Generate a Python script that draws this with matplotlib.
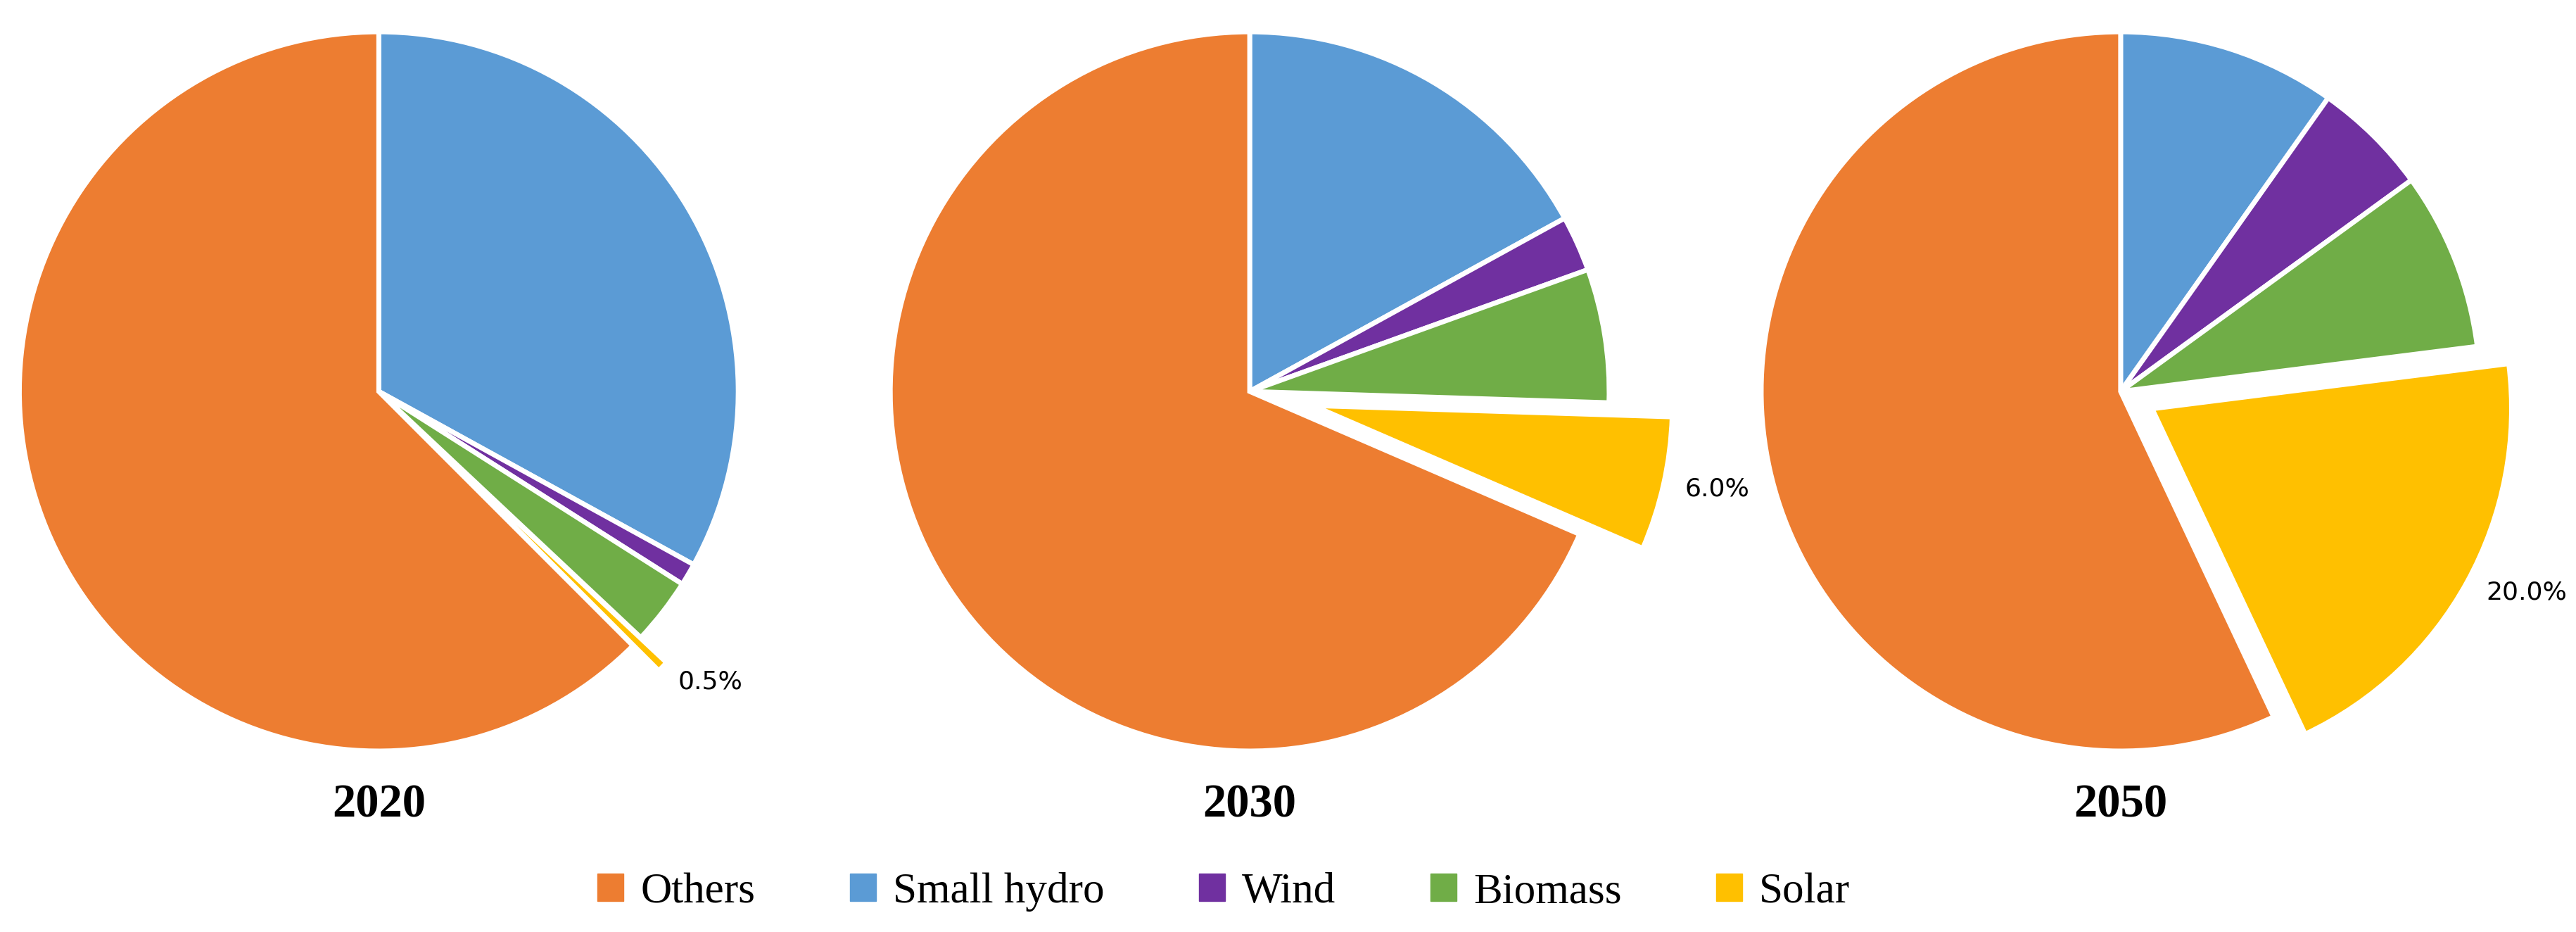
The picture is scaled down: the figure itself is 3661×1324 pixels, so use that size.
import matplotlib
matplotlib.use("Agg")
import matplotlib.pyplot as plt
from matplotlib.patches import Patch

categories = ['Small hydro', 'Wind', 'Biomass', 'Solar', 'Others']
colors = ['#5B9BD5', '#7030A0', '#70AD47', '#FFC000', '#ED7D31']
years = ['2020', '2030', '2050']
shares = {
    '2020': [33.0, 1.0, 3.0, 0.5, 62.5],
    '2030': [17.0, 2.5, 6.0, 6.0, 68.5],
    '2050': [9.8, 5.2, 8.0, 20.0, 57.0],
}
solar_labels = {'2020': '0.5%', '2030': '6.0%', '2050': '20.0%'}
explode_solar = {'2020': 0.1, '2030': 0.18, '2050': 0.1}

fig = plt.figure(figsize=(36.62, 13.24), dpi=100)
centers = [0.147, 0.485, 0.823]
w, h = 0.335, 0.926
for cx, yr in zip(centers, years):
    ax = fig.add_axes([cx - w / 2, 0.58 - h / 2, w, h])
    explode = [0, 0, 0, explode_solar[yr], 0]
    labels = ['', '', '', solar_labels[yr], '']
    ax.pie(shares[yr], colors=colors, startangle=90, counterclock=False,
           explode=explode, labels=labels, labeldistance=1.06,
           textprops=dict(fontsize=26, family='Liberation Sans Narrow'),
           wedgeprops=dict(edgecolor='white', linewidth=5))
    ax.set_xlim(-1.2, 1.2)
    ax.set_ylim(-1.2, 1.2)
    ax.set_aspect('equal')
    ax.axis('off')
    fig.text(cx, 0.136, yr, ha='center', va='center', fontsize=48,
             fontweight='bold', family='Liberation Serif')

order = ['Others', 'Small hydro', 'Wind', 'Biomass', 'Solar']
handles = [Patch(color=colors[categories.index(c)], label=c) for c in order]
fig.legend(handles=handles, loc='center', bbox_to_anchor=(0.475, 0.043), ncol=5,
           frameon=False, prop=dict(family='Liberation Serif', size=44),
           handlelength=0.6, handleheight=0.6, columnspacing=2.2, handletextpad=0.4)

fig.savefig('out.png', dpi=100)
